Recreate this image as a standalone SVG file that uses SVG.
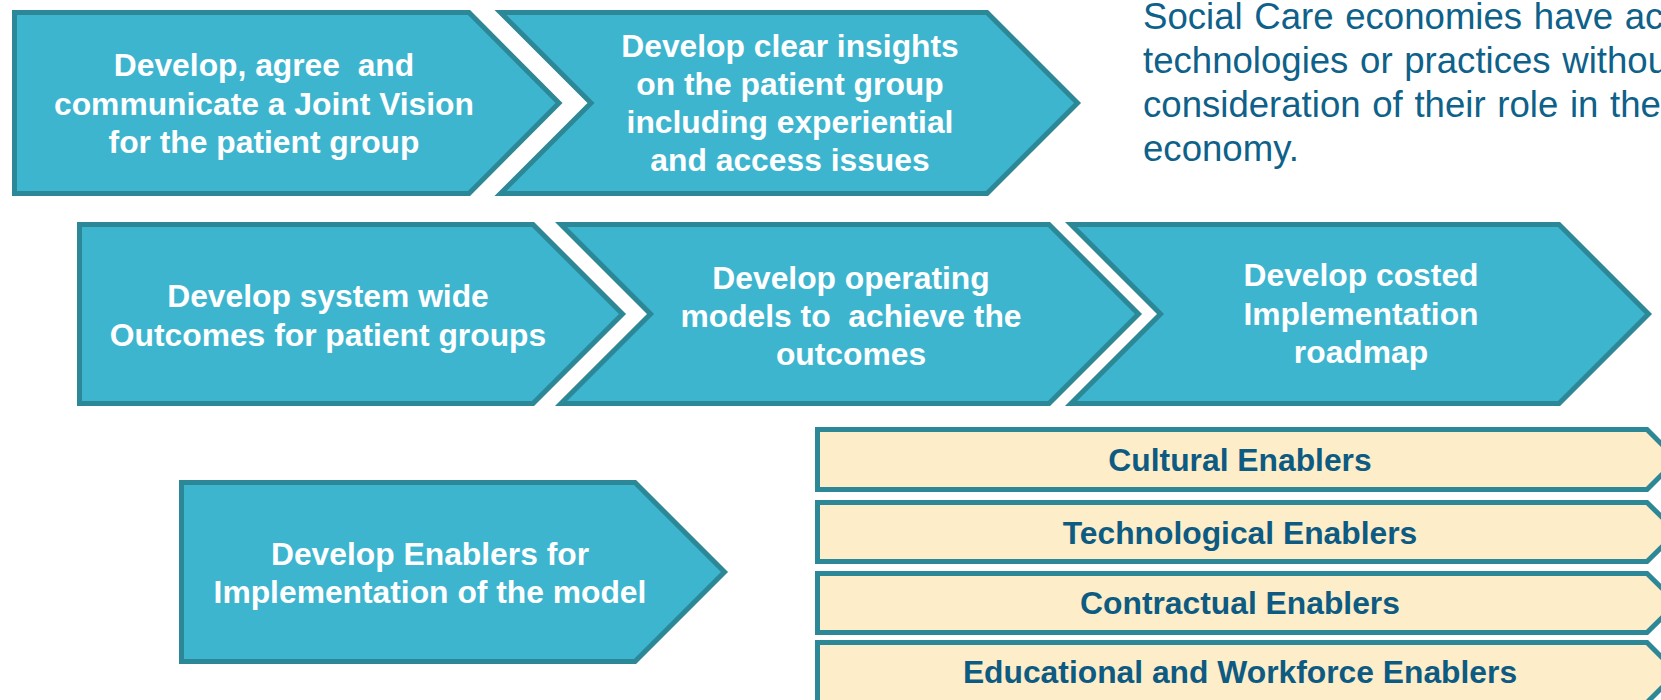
<svg xmlns="http://www.w3.org/2000/svg" width="1661" height="700" viewBox="0 0 1661 700">
  <style>
    .step { fill: #3DB5CF; stroke: #2C8796; stroke-width: 5; stroke-linejoin: miter; }
    .bar { fill: #FDEDC8; stroke: #2C8796; stroke-width: 5; stroke-linejoin: miter; }
    .st { font-family: "Liberation Sans", Arial, sans-serif; font-weight: bold; font-size: 31.8px; fill: #FFFFFF; text-anchor: middle; white-space: pre; }
    .bt { font-family: "Liberation Sans", Arial, sans-serif; font-weight: bold; font-size: 31.8px; fill: #0D5B82; text-anchor: middle; }
    .note { font-family: "Liberation Sans", Arial, sans-serif; font-size: 36.6px; fill: #0E6189; }
    .just { word-spacing: 1.5px; }
  </style>
  <rect x="0" y="0" width="1661" height="700" fill="#FFFFFF"/>

  <g id="note">
    <text class="note just" x="1143" y="29">Social Care economies have ac</text>
    <text class="note just" x="1143" y="73">technologies or practices withou</text>
    <text class="note just" x="1143" y="117">consideration of their role in the</text>
    <text class="note" x="1143" y="161">economy.</text>
  </g>

  <g id="joint-vision">
    <path class="step" d="M14.5,12.5 H469 L559,103 L469,193.5 H14.5 Z"/>
    <text class="st" x="264" y="76" xml:space="preserve">Develop, agree  and</text>
    <text class="st" x="264" y="115">communicate a Joint Vision</text>
    <text class="st" x="264" y="153">for the patient group</text>
  </g>

  <g id="insights">
    <path class="step" d="M500.5,12.5 H987 L1077.5,103 L987,193.5 H500.5 L591,103 Z"/>
    <text class="st" x="790" y="57">Develop clear insights</text>
    <text class="st" x="790" y="95">on the patient group</text>
    <text class="st" x="790" y="133">including experiential</text>
    <text class="st" x="790" y="171">and access issues</text>
  </g>

  <g id="outcomes">
    <path class="step" d="M79.5,224.5 H533 L622.5,314 L533,403.5 H79.5 Z"/>
    <text class="st" x="328" y="307">Develop system wide</text>
    <text class="st" x="328" y="346">Outcomes for patient groups</text>
  </g>

  <g id="operating-models">
    <path class="step" d="M561,224.5 H1049 L1138.5,314 L1049,403.5 H561 L650.5,314 Z"/>
    <text class="st" x="851" y="289">Develop operating</text>
    <text class="st" x="851" y="327" xml:space="preserve">models to  achieve the</text>
    <text class="st" x="851" y="365">outcomes</text>
  </g>

  <g id="roadmap">
    <path class="step" d="M1071,224.5 H1559 L1648.5,314 L1559,403.5 H1071 L1160.5,314 Z"/>
    <text class="st" x="1361" y="286">Develop costed</text>
    <text class="st" x="1361" y="324.5">Implementation</text>
    <text class="st" x="1361" y="363">roadmap</text>
  </g>

  <g id="enablers">
    <path class="step" d="M181.5,482.5 H635 L724.5,572 L635,661.5 H181.5 Z"/>
    <text class="st" x="430" y="565">Develop Enablers for</text>
    <text class="st" x="430" y="603">Implementation of the model</text>
  </g>

  <g id="cultural">
    <path class="bar" d="M817.5,429.5 H1647 L1677,459.5 L1647,489.5 H817.5 Z"/>
    <text class="bt" x="1240" y="470.7">Cultural Enablers</text>
  </g>

  <g id="technological">
    <path class="bar" d="M817.5,502.5 H1647 L1677,532 L1647,561.5 H817.5 Z"/>
    <text class="bt" x="1240" y="544">Technological Enablers</text>
  </g>

  <g id="contractual">
    <path class="bar" d="M817.5,573.5 H1647 L1677,603 L1647,632.5 H817.5 Z"/>
    <text class="bt" x="1240" y="614">Contractual Enablers</text>
  </g>

  <g id="educational">
    <path class="bar" d="M817.5,642.5 H1647 L1677,672.5 L1647,702.5 H817.5 Z"/>
    <text class="bt" x="1240" y="683">Educational and Workforce Enablers</text>
  </g>

  <g id="connectors"></g>
</svg>
